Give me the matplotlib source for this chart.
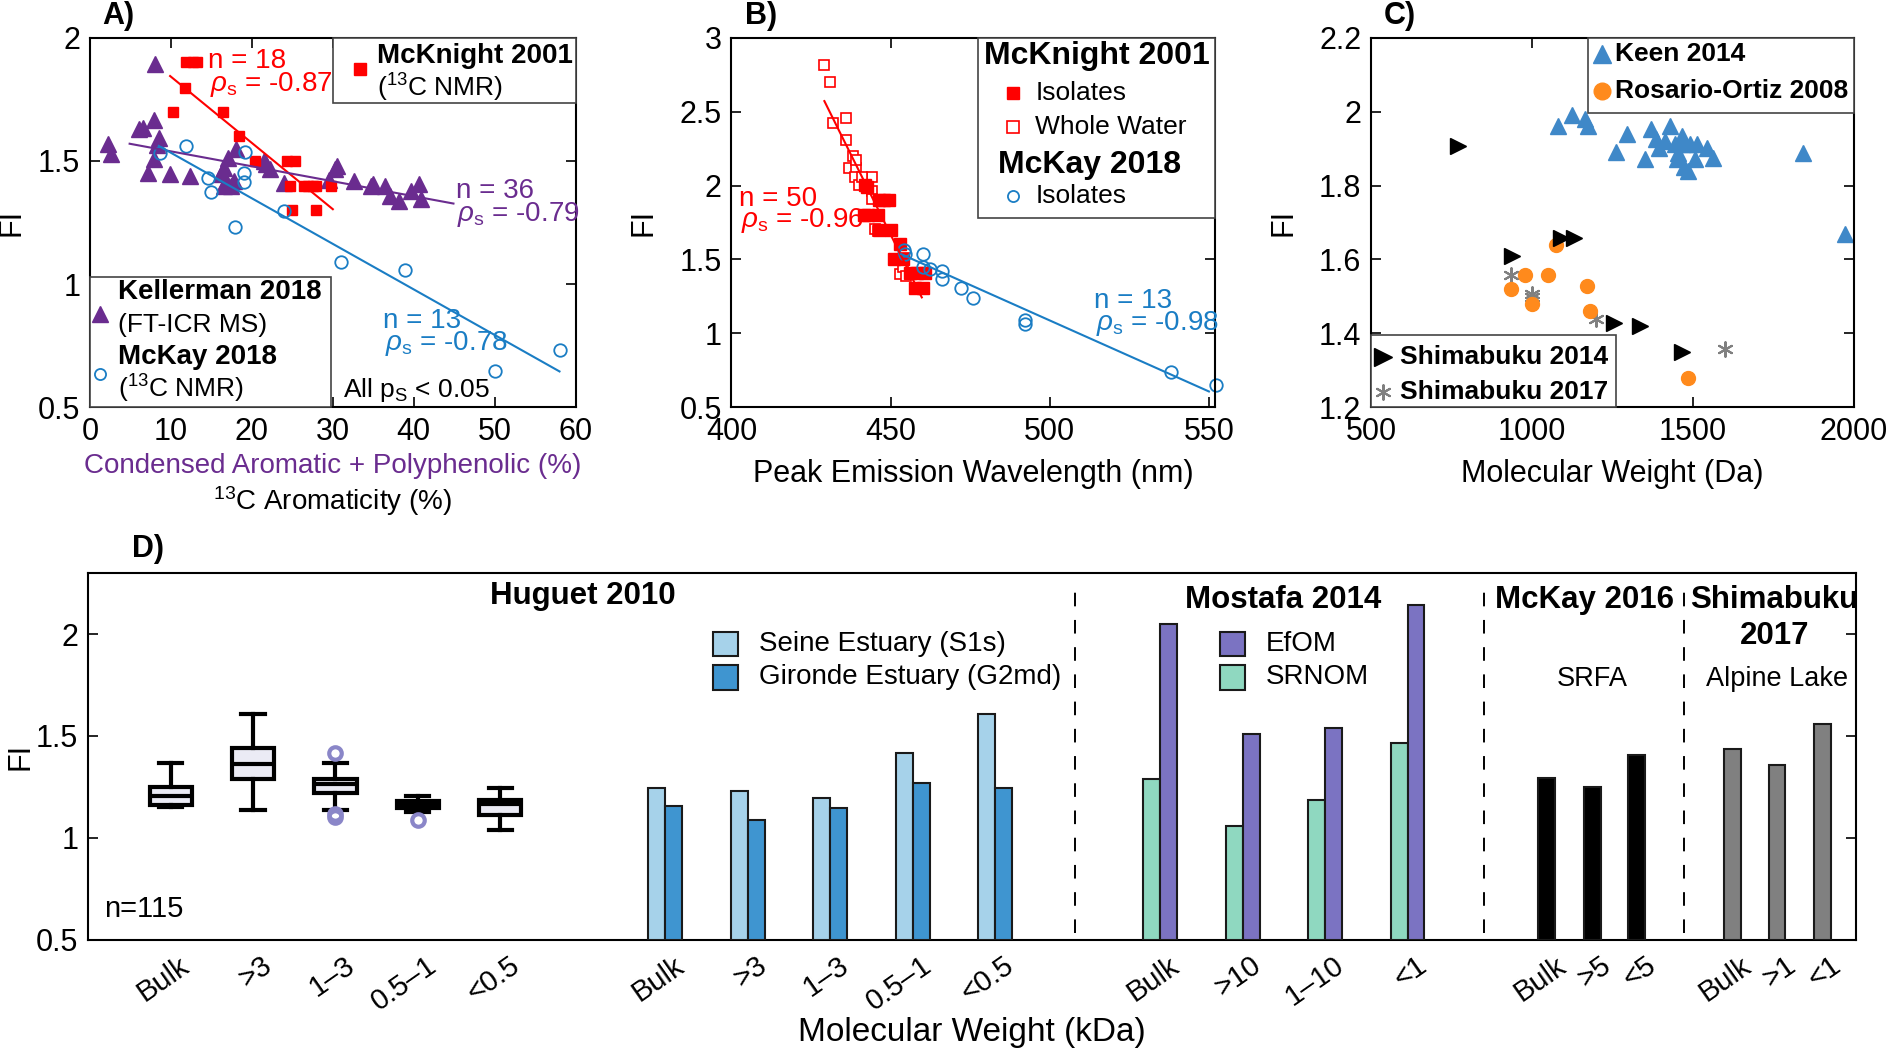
import numpy as np
import matplotlib
matplotlib.use('Agg')
import matplotlib.pyplot as plt
import matplotlib.transforms as mtransforms
from matplotlib.patches import Rectangle

plt.rcParams['font.family'] = ['Liberation Sans', 'DejaVu Sans']
plt.rcParams['mathtext.fontset'] = 'custom'
plt.rcParams['mathtext.rm'] = 'Liberation Sans'
plt.rcParams['mathtext.it'] = 'Liberation Sans:italic'
plt.rcParams['mathtext.bf'] = 'Liberation Sans:bold'

# ---------------- data ----------------
# A) FI vs aromaticity
kell_x = [2.2, 2.6, 8.0, 6.1, 6.5, 7.9, 8.5, 8.3, 7.9, 7.2, 9.9, 12.4, 16.2, 16.5, 17.0, 16.8,
          17.4, 16.5, 18.1, 21.5, 21.7, 22.3, 24.0, 29.5, 30.5, 30.3, 32.6, 34.7, 35.0, 36.5,
          37.1, 38.2, 39.7, 40.7, 40.9, 17.8]
kell_y = [1.57, 1.53, 1.895, 1.628, 1.635, 1.665, 1.595, 1.565, 1.507, 1.453, 1.446, 1.438,
          1.446, 1.473, 1.514, 1.419, 1.399, 1.399, 1.547, 1.50, 1.486, 1.466, 1.412, 1.422,
          1.48, 1.466, 1.419, 1.399, 1.405, 1.399, 1.358, 1.338, 1.378, 1.405, 1.345, 1.42]
mck01_x = [11.9, 12.7, 13.2, 11.7, 10.3, 16.4, 18.4, 20.4, 24.3, 25.3, 24.7, 26.4, 26.9, 27.5,
           27.9, 29.8, 24.9, 27.9]
mck01_y = [1.9, 1.9, 1.9, 1.797, 1.70, 1.70, 1.601, 1.5, 1.5, 1.5, 1.399, 1.399, 1.399, 1.399,
           1.399, 1.399, 1.3, 1.3]
mck18_x = [8.6, 11.9, 14.6, 14.9, 17.9, 19.1, 19.0, 19.0, 24.0, 31.0, 38.9, 50.0, 58.0]
mck18_y = [1.534, 1.561, 1.432, 1.372, 1.23, 1.538, 1.453, 1.415, 1.297, 1.088, 1.057, 0.645, 0.734]
fitA_mck01 = ([9.9, 30.0], [1.845, 1.304])
fitA_kell = ([4.9, 44.9], [1.570, 1.327])
fitA_mck18 = ([8.5, 58.0], [1.561, 0.645])

# B) FI vs peak emission wavelength
ww_x = [429.2, 431.1, 432.0, 436.0, 436.0, 438.2, 436.8, 439.2, 438.9, 440.0, 442.0, 444.1,
        444.1, 444.1, 444.1, 445.2, 452.8, 453.9, 454.1, 440.9, 439.2, 446.2, 454.7]
ww_y = [2.813, 2.703, 2.426, 2.455, 2.306, 2.200, 2.122, 2.122, 2.06, 2.007, 2.045, 2.06,
        1.966, 1.91, 1.80, 1.705, 1.40, 1.45, 1.51, 2.06, 2.17, 1.695, 1.39]
iso_x = [442.0, 442.5, 446.3, 447.9, 449.5, 441.7, 443.0, 446.0, 450.1, 446.3, 452.8, 451.0,
         453.9, 456.0, 458.2, 460.9, 457.7, 460.3]
iso_y = [2.007, 1.99, 1.90, 1.90, 1.90, 1.80, 1.80, 1.80, 1.70, 1.70, 1.605, 1.50, 1.50,
         1.405, 1.405, 1.405, 1.304, 1.304]
mkB_x = [454.2, 454.4, 460.1, 460.1, 462.3, 466.3, 466.3, 472.2, 476.0, 492.2, 492.2, 538.2, 552.2]
mkB_y = [1.563, 1.536, 1.536, 1.45, 1.434, 1.42, 1.37, 1.304, 1.236, 1.09, 1.063, 0.741, 0.65]
fitB_mck01 = ([429.2, 459.8], [2.572, 1.243])
fitB_mck18 = ([453.3, 550.0], [1.536, 0.606])

# C) FI vs molecular weight
keen_x = [1080, 1124, 1165, 1174, 1295, 1262, 1352, 1370, 1428, 1386, 1412, 1394, 1443, 1467,
          1467, 1454, 1451, 1472, 1485, 1490, 1511, 1506, 1543, 1562, 1841, 1972]
keen_y = [1.961, 1.990, 1.979, 1.961, 1.939, 1.892, 1.871, 1.952, 1.961, 1.925, 1.92, 1.903,
          1.912, 1.934, 1.912, 1.889, 1.871, 1.849, 1.840, 1.912, 1.912, 1.871, 1.903, 1.876,
          1.889, 1.670]
ros_x = [934, 978, 999, 1049, 1075, 1171, 1180, 1485]
ros_y = [1.520, 1.559, 1.480, 1.559, 1.640, 1.529, 1.461, 1.279]
shim14_x = [769, 938, 1091, 1131, 1253, 1336, 1467]
shim14_y = [1.907, 1.610, 1.659, 1.659, 1.428, 1.419, 1.349]
shim17_x = [936, 999, 999, 1198, 1600]
shim17_y = [1.559, 1.507, 1.498, 1.439, 1.358]

# D) FI of size fractions
box_labels = ['Bulk', '>3', '1–3', '0.5–1', '<0.5']
box_whislo = [1.151, 1.138, 1.138, 1.127, 1.037]
box_q1 = [1.164, 1.287, 1.222, 1.147, 1.111]
box_med = [1.208, 1.363, 1.265, 1.164, 1.168]
box_q3 = [1.249, 1.440, 1.288, 1.181, 1.187]
box_whishi = [1.368, 1.607, 1.368, 1.208, 1.246]
box_fliers = [[], [], [1.417, 1.119, 1.103], [1.086], []]

huguet_labels = ['Bulk', '>3', '1–3', '0.5–1', '<0.5']
seine = [1.246, 1.228, 1.197, 1.417, 1.607]
gironde = [1.156, 1.086, 1.148, 1.269, 1.246]
mostafa_labels = ['Bulk', '>10', '1–10', '<1']
srnom = [1.288, 1.057, 1.186, 1.467]
efom = [2.049, 1.508, 1.537, 2.140]
mckay16_labels = ['Bulk', '>5', '<5']
srfa = [1.296, 1.251, 1.407]
shim17_labels = ['Bulk', '>1', '<1']
alpine = [1.435, 1.357, 1.557]

# ---------------- style ----------------
RED = '#ff0000'
PURPLE = '#6a2c8f'
BLUE = '#1a7dc4'
KEEN = '#3f88c8'
ORANGE = '#ff8a1c'
GREY = '#808080'
TICK = 22
TXT = 20

fig = plt.figure(figsize=(18.9, 10.52), dpi=100)


def matlab_axes(ax):
    ax.tick_params(direction='in', top=True, right=True, length=7, width=1.2,
                   labelsize=TICK, pad=7)
    for s in ax.spines.values():
        s.set_linewidth(1.5)


def legbox(ax, x0, y0, x1, y1):
    ax.add_patch(Rectangle((x0, y0), x1 - x0, y1 - y0, transform=ax.transAxes,
                           facecolor='white', edgecolor='#444444', lw=1.2,
                           zorder=5, clip_on=False))


def legmark(ax, x, y, **kw):
    ax.plot([x], [y], transform=ax.transAxes, clip_on=False, zorder=6, ls='none', **kw)


def legtext(ax, x, y, s, **kw):
    ax.text(x, y, s, transform=ax.transAxes, zorder=7, va='center', **kw)


# ---------------- A ----------------
axA = fig.add_axes([0.0476, 0.613, 0.257, 0.351])
axA.plot(kell_x, kell_y, '^', color=PURPLE, ms=11, clip_on=False)
axA.plot(mck01_x, mck01_y, 's', color=RED, ms=7, clip_on=False)
axA.plot(mck18_x, mck18_y, 'o', mfc='none', mec=BLUE, ms=9, mew=1.3, clip_on=False)
axA.plot(*fitA_mck01, color=RED, lw=1.5)
axA.plot(*fitA_kell, color=PURPLE, lw=1.5)
axA.plot(*fitA_mck18, color=BLUE, lw=1.5)
axA.set_xlim(0, 60)
axA.set_ylim(0.5, 2)
axA.set_xticks(range(0, 61, 10))
axA.set_yticks([0.5, 1, 1.5, 2])
axA.set_yticklabels(['0.5', '1', '1.5', '2'])
matlab_axes(axA)
axA.set_ylabel('FI', fontsize=TICK)
axA.yaxis.set_label_coords(-0.13, 0.5)
axA.text(0.5, -0.16, 'Condensed Aromatic + Polyphenolic (%)', color=PURPLE, fontsize=TXT,
         transform=axA.transAxes, ha='center', va='center')
axA.text(0.5, -0.255, r'$^{13}$C Aromaticity (%)', fontsize=TXT,
         transform=axA.transAxes, ha='center', va='center')
axA.text(14.6, 1.905, 'n = 18', color=RED, fontsize=TXT, va='center')
axA.text(14.8, 1.81, r'$\rho_{\rm s}$ = -0.87', color=RED, fontsize=TXT, va='center')
axA.text(45.2, 1.378, 'n = 36', color=PURPLE, fontsize=TXT, va='center')
axA.text(45.4, 1.284, r'$\rho_{\rm s}$ = -0.79', color=PURPLE, fontsize=TXT, va='center')
axA.text(36.2, 0.849, 'n = 13', color=BLUE, fontsize=TXT, va='center')
axA.text(36.5, 0.757, r'$\rho_{\rm s}$ = -0.78', color=BLUE, fontsize=TXT, va='center')
axA.text(31.2, 0.568, r'All p$_{\rm S}$ < 0.05', fontsize=TXT - 1, va='center', zorder=8)

legbox(axA, 0.5, 0.824, 1.0, 1.0)
legmark(axA, 0.555, 0.915, marker='s', color=RED, ms=9)
legtext(axA, 0.59, 0.951, 'McKnight 2001', fontsize=TXT, fontweight='bold')
legtext(axA, 0.59, 0.865, r'($^{13}$C NMR)', fontsize=TXT - 1)

legbox(axA, 0.0, 0.0, 0.497, 0.353)
legmark(axA, 0.021, 0.252, marker='^', color=PURPLE, ms=11)
legmark(axA, 0.021, 0.09, marker='o', mfc='none', mec=BLUE, ms=8, mew=1.3)
legtext(axA, 0.058, 0.311, 'Kellerman 2018', fontsize=TXT, fontweight='bold')
legtext(axA, 0.058, 0.223, '(FT-ICR MS)', fontsize=TXT - 1)
legtext(axA, 0.058, 0.135, 'McKay 2018', fontsize=TXT, fontweight='bold')
legtext(axA, 0.058, 0.05, r'($^{13}$C NMR)', fontsize=TXT - 1)

# ---------------- B ----------------
axB = fig.add_axes([0.387, 0.613, 0.256, 0.351])
axB.plot(ww_x, ww_y, 's', mfc='white', mec=RED, ms=6.5, mew=1.2, clip_on=False)
axB.plot(iso_x, iso_y, 's', color=RED, ms=8, clip_on=False)
axB.plot(mkB_x, mkB_y, 'o', mfc='none', mec=BLUE, ms=9, mew=1.3, clip_on=False)
axB.plot(*fitB_mck01, color=RED, lw=1.5)
axB.plot(*fitB_mck18, color=BLUE, lw=1.5)
axB.set_xlim(400, 552)
axB.set_ylim(0.5, 3)
axB.set_xticks([400, 450, 500, 550])
axB.set_yticks([0.5, 1, 1.5, 2, 2.5, 3])
axB.set_yticklabels(['0.5', '1', '1.5', '2', '2.5', '3'])
matlab_axes(axB)
axB.set_ylabel('FI', fontsize=TICK)
axB.yaxis.set_label_coords(-0.15, 0.5)
axB.set_xlabel('Peak Emission Wavelength (nm)', fontsize=TICK, labelpad=9)
axB.text(402.5, 1.908, 'n = 50', color=RED, fontsize=TXT, va='center')
axB.text(403, 1.761, r'$\rho_{\rm s}$ = -0.96', color=RED, fontsize=TXT, va='center')
axB.text(513.8, 1.221, 'n = 13', color=BLUE, fontsize=TXT, va='center')
axB.text(514.4, 1.063, r'$\rho_{\rm s}$ = -0.98', color=BLUE, fontsize=TXT, va='center')

legbox(axB, 0.51, 0.511, 1.0, 1.0)
legtext(axB, 0.755, 0.95, 'McKnight 2001', fontsize=23, fontweight='bold', ha='center')
legmark(axB, 0.582, 0.851, marker='s', color=RED, ms=9)
legtext(axB, 0.628, 0.851, 'Isolates', fontsize=TXT - 1)
legmark(axB, 0.582, 0.758, marker='s', mfc='white', mec=RED, ms=9, mew=1.2)
legtext(axB, 0.628, 0.758, 'Whole Water', fontsize=TXT - 1)
legtext(axB, 0.74, 0.656, 'McKay 2018', fontsize=23, fontweight='bold', ha='center')
legmark(axB, 0.582, 0.572, marker='o', mfc='none', mec=BLUE, ms=8, mew=1.3)
legtext(axB, 0.628, 0.572, 'Isolates', fontsize=TXT - 1)

# ---------------- C ----------------
axC = fig.add_axes([0.7254, 0.613, 0.2556, 0.351])
axC.plot(keen_x, keen_y, '^', color=KEEN, ms=12, clip_on=False)
axC.plot(ros_x, ros_y, 'o', color=ORANGE, ms=10, clip_on=False)
axC.plot(shim14_x, shim14_y, '>', color='black', ms=11, clip_on=False)
axC.scatter(shim17_x, shim17_y, marker=(6, 2, 0), s=110, color=GREY, lw=1.5, clip_on=False)
axC.set_xlim(500, 2000)
axC.set_ylim(1.2, 2.2)
axC.set_xticks([500, 1000, 1500, 2000])
axC.set_yticks([1.2, 1.4, 1.6, 1.8, 2.0, 2.2])
axC.set_yticklabels(['1.2', '1.4', '1.6', '1.8', '2', '2.2'])
matlab_axes(axC)
axC.set_ylabel('FI', fontsize=TICK)
axC.yaxis.set_label_coords(-0.15, 0.5)
axC.set_xlabel('Molecular Weight (Da)', fontsize=TICK, labelpad=9)

legbox(axC, 0.45, 0.797, 1.0, 1.0)
legmark(axC, 0.478, 0.955, marker='^', color=KEEN, ms=13)
legtext(axC, 0.505, 0.955, 'Keen 2014', fontsize=TXT - 1, fontweight='bold')
legmark(axC, 0.478, 0.856, marker='o', color=ORANGE, ms=12)
legtext(axC, 0.505, 0.856, 'Rosario-Ortiz 2008', fontsize=TXT - 1, fontweight='bold')
legbox(axC, 0.0, 0.0, 0.508, 0.196)
legmark(axC, 0.025, 0.135, marker='>', color='black', ms=13)
legtext(axC, 0.061, 0.135, 'Shimabuku 2014', fontsize=TXT - 1, fontweight='bold')
axC.scatter([0.025], [0.04], marker=(6, 2, 0), s=110, color=GREY, lw=1.5,
            transform=axC.transAxes, clip_on=False, zorder=6)
legtext(axC, 0.061, 0.04, 'Shimabuku 2017', fontsize=TXT - 1, fontweight='bold')

# ---------------- D ----------------
axD = fig.add_axes([0.0466, 0.1065, 0.9355, 0.349])
LIGHTB, DARKB = '#a6d2ea', '#3f95d0'
EFOM, SRNOM = '#7b73c2', '#8fd8c0'
BW = 0.205

# layout of categorical groups along x
pos_box = np.arange(1, 6)
pos_hug = np.arange(7, 12)
pos_mos = np.arange(13, 17)
pos_mk16 = np.array([17.69, 18.24, 18.78])
pos_sh17 = np.array([19.94, 20.48, 21.03])

stats = []
for i in range(len(box_labels)):
    stats.append(dict(whislo=box_whislo[i], q1=box_q1[i], med=box_med[i],
                      q3=box_q3[i], whishi=box_whishi[i], fliers=box_fliers[i]))
axD.bxp(stats, positions=pos_box, widths=0.51, patch_artist=True,
        boxprops=dict(facecolor='#ebebf5', edgecolor='black', lw=3),
        medianprops=dict(color='black', lw=3),
        whiskerprops=dict(color='black', lw=3),
        capprops=dict(color='black', lw=3), capwidths=0.28,
        flierprops=dict(marker='o', mfc='none', mec='#8a86c8', ms=9, mew=3),
        manage_ticks=False)

bar_kw = dict(width=BW, edgecolor='#1a1a1a', lw=1.5, zorder=3)
axD.bar(pos_hug - BW / 2, np.array(seine) - 0.5, bottom=0.5, color=LIGHTB, **bar_kw)
axD.bar(pos_hug + BW / 2, np.array(gironde) - 0.5, bottom=0.5, color=DARKB, **bar_kw)
axD.bar(pos_mos - BW / 2, np.array(srnom) - 0.5, bottom=0.5, color=SRNOM, **bar_kw)
axD.bar(pos_mos + BW / 2, np.array(efom) - 0.5, bottom=0.5, color=EFOM, **bar_kw)
axD.bar(pos_mk16, np.array(srfa) - 0.5, bottom=0.5, color='black', **bar_kw)
axD.bar(pos_sh17, np.array(alpine) - 0.5, bottom=0.5, color=GREY, **bar_kw)

for xv in [11.97, 16.925, 19.35]:
    axD.axvline(xv, ymin=0.02, ymax=0.98, color='black', ls=(0, (7, 7)), lw=1.4)

axD.set_xlim(0, 21.44)
axD.set_ylim(0.5, 2.3)
axD.set_yticks([0.5, 1, 1.5, 2])
axD.set_yticklabels(['0.5', '1', '1.5', '2'])
allpos = np.concatenate([pos_box, pos_hug, pos_mos, pos_mk16, pos_sh17])
alllab = box_labels + huguet_labels + mostafa_labels + mckay16_labels + shim17_labels
axD.set_xticks(allpos)
axD.set_xticklabels(alllab, rotation=35, ha='right', rotation_mode='anchor', fontsize=21)
axD.tick_params(axis='y', direction='in', right=True, length=7, width=1.2,
                labelsize=TICK, pad=7)
axD.tick_params(axis='x', length=0, pad=8)
shift = mtransforms.ScaledTranslation(0.08, 0, fig.dpi_scale_trans)
for lab in axD.get_xticklabels():
    lab.set_transform(lab.get_transform() + shift)
for s in axD.spines.values():
    s.set_linewidth(1.5)
axD.set_ylabel('FI', fontsize=TICK)
axD.yaxis.set_label_coords(-0.03, 0.5)
axD.set_xlabel('Molecular Weight (kDa)', fontsize=24)
axD.xaxis.set_label_coords(0.5, -0.21)

hkw = dict(fontsize=22.5, fontweight='bold', ha='center', va='center')
axD.text(6.0, 2.186, 'Huguet 2010', **hkw)
axD.text(14.49, 2.165, 'Mostafa 2014', **hkw)
axD.text(18.14, 2.165, 'McKay 2016', **hkw)
axD.text(20.45, 2.165, 'Shimabuku', **hkw)
axD.text(20.45, 1.99, '2017', **hkw)
axD.text(18.24, 1.78, 'SRFA', fontsize=19.5, ha='center', va='center')
axD.text(20.48, 1.78, 'Alpine Lake', fontsize=19.5, ha='center', va='center')
axD.text(0.2, 0.65, 'n=115', fontsize=TXT + 1, va='center')

for x0, y0, c, t in [(7.73, 1.95, LIGHTB, 'Seine Estuary (S1s)'),
                     (7.73, 1.787, DARKB, 'Gironde Estuary (G2md)'),
                     (13.88, 1.95, EFOM, 'EfOM'),
                     (13.88, 1.787, SRNOM, 'SRNOM')]:
    axD.add_patch(Rectangle((x0 - 0.155, y0 - 0.06), 0.31, 0.12, facecolor=c,
                            edgecolor='#1a1a1a', lw=1.5, zorder=4))
    axD.text(x0 + 0.4, y0, t, fontsize=TXT, va='center')

# panel letters
for x, y, s in [(0.054, 0.985, 'A)'), (0.394, 0.985, 'B)'), (0.732, 0.985, 'C)'),
                (0.070, 0.478, 'D)')]:
    fig.text(x, y, s, fontsize=TICK, fontweight='bold', va='center')

fig.savefig('out.png', dpi=100)
